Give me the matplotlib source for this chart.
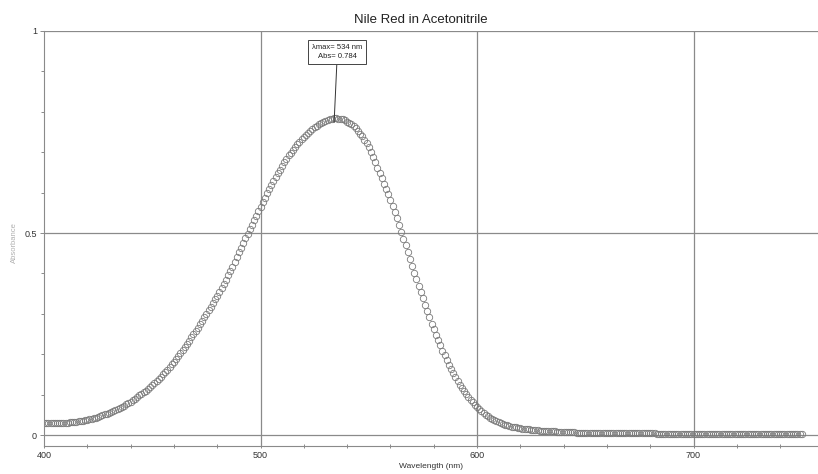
import numpy as np
import matplotlib
matplotlib.use("Agg")
import matplotlib.pyplot as plt
import matplotlib.ticker as ticker

plt.rcParams['font.family'] = ['Liberation Sans', 'DejaVu Sans']

# Wavelength grid (nm), one reading per nm
wavelength = np.arange(400, 751)

# Absorbance, one row per 10 nm
absorbance = [
    0.030, 0.030, 0.030, 0.030, 0.030, 0.030, 0.030, 0.030, 0.031, 0.031,  # 400
    0.031, 0.031, 0.032, 0.032, 0.033, 0.033, 0.034, 0.035, 0.036, 0.037,  # 410
    0.038, 0.039, 0.040, 0.042, 0.043, 0.045, 0.047, 0.049, 0.051, 0.053,  # 420
    0.055, 0.057, 0.059, 0.062, 0.064, 0.067, 0.070, 0.073, 0.076, 0.079,  # 430
    0.083, 0.086, 0.090, 0.094, 0.098, 0.102, 0.106, 0.110, 0.115, 0.119,  # 440
    0.124, 0.129, 0.134, 0.139, 0.144, 0.150, 0.156, 0.162, 0.169, 0.175,  # 450
    0.182, 0.189, 0.196, 0.203, 0.210, 0.218, 0.226, 0.234, 0.242, 0.250,  # 460
    0.258, 0.266, 0.275, 0.283, 0.291, 0.300, 0.309, 0.318, 0.327, 0.336,  # 470
    0.345, 0.355, 0.365, 0.375, 0.385, 0.395, 0.406, 0.417, 0.429, 0.440,  # 480
    0.452, 0.463, 0.475, 0.487, 0.498, 0.510, 0.521, 0.532, 0.543, 0.554,  # 490
    0.565, 0.576, 0.587, 0.598, 0.608, 0.618, 0.629, 0.639, 0.648, 0.657,  # 500
    0.666, 0.675, 0.684, 0.692, 0.699, 0.706, 0.713, 0.720, 0.726, 0.732,  # 510
    0.738, 0.743, 0.748, 0.753, 0.758, 0.762, 0.766, 0.769, 0.772, 0.775,  # 520
    0.777, 0.779, 0.781, 0.782, 0.784, 0.784, 0.783, 0.782, 0.781, 0.779,  # 530
    0.776, 0.773, 0.769, 0.764, 0.759, 0.753, 0.746, 0.739, 0.731, 0.722,  # 540
    0.712, 0.700, 0.688, 0.675, 0.662, 0.648, 0.635, 0.622, 0.609, 0.596,  # 550
    0.582, 0.567, 0.552, 0.536, 0.520, 0.503, 0.486, 0.470, 0.453, 0.436,  # 560
    0.419, 0.402, 0.386, 0.370, 0.354, 0.338, 0.322, 0.306, 0.291, 0.276,  # 570
    0.262, 0.248, 0.235, 0.222, 0.209, 0.197, 0.185, 0.174, 0.163, 0.153,  # 580
    0.143, 0.134, 0.125, 0.117, 0.109, 0.101, 0.094, 0.087, 0.081, 0.075,  # 590
    0.069, 0.064, 0.059, 0.054, 0.050, 0.046, 0.043, 0.040, 0.037, 0.034,  # 600
    0.032, 0.030, 0.028, 0.026, 0.024, 0.023, 0.021, 0.020, 0.019, 0.018,  # 610
    0.017, 0.016, 0.015, 0.015, 0.014, 0.013, 0.013, 0.012, 0.012, 0.011,  # 620
    0.011, 0.010, 0.010, 0.010, 0.009, 0.009, 0.009, 0.008, 0.008, 0.008,  # 630
    0.008, 0.007, 0.007, 0.007, 0.007, 0.007, 0.006, 0.006, 0.006, 0.006,  # 640
    0.006, 0.006, 0.006, 0.005, 0.005, 0.005, 0.005, 0.005, 0.005, 0.005,  # 650
    0.005, 0.005, 0.005, 0.005, 0.004, 0.004, 0.004, 0.004, 0.004, 0.004,  # 660
    0.004, 0.004, 0.004, 0.004, 0.004, 0.004, 0.004, 0.004, 0.004, 0.004,  # 670
    0.004, 0.004, 0.004, 0.003, 0.003, 0.003, 0.003, 0.003, 0.003, 0.003,  # 680
    0.003, 0.003, 0.003, 0.003, 0.003, 0.003, 0.003, 0.003, 0.003, 0.003,  # 690
    0.003, 0.003, 0.003, 0.003, 0.003, 0.003, 0.003, 0.003, 0.003, 0.003,  # 700
    0.003, 0.003, 0.003, 0.003, 0.003, 0.002, 0.002, 0.002, 0.002, 0.002,  # 710
    0.002, 0.002, 0.002, 0.002, 0.002, 0.002, 0.002, 0.002, 0.002, 0.002,  # 720
    0.002, 0.002, 0.002, 0.002, 0.002, 0.002, 0.002, 0.002, 0.002, 0.002,  # 730
    0.002, 0.002, 0.002, 0.002, 0.002, 0.002, 0.002, 0.002, 0.002, 0.002,  # 740
    0.002,                                                                  # 750
]

peak_wl = 534
peak_abs = 0.784
x_ticks = [400, 500, 600, 700]
y_ticks = [0, 0.5, 1]
y_ticklabels = ["0", "0.5", "1"]

grey = "#8a8a8a"

fig = plt.figure(figsize=(8.18, 4.74), dpi=100)
ax = fig.add_axes([0.0538, 0.0591, 0.9462, 0.8755])

ax.plot(wavelength, absorbance, linestyle="none", marker="o", markersize=4.6,
        markerfacecolor="none", markeredgecolor="#7a7a7a", markeredgewidth=0.6)

ax.set_xlim(400, 757.5)
ax.set_ylim(-0.027, 1.0)

# grid lines at the major positions
for xv in x_ticks[1:]:
    ax.axvline(xv, color=grey, linewidth=0.9, zorder=0)
for yv in y_ticks:
    ax.axhline(yv, color=grey, linewidth=0.9, zorder=0)

for side in ["right", "top"]:
    ax.spines[side].set_visible(False)
ax.spines["left"].set_color(grey)
ax.spines["bottom"].set_color(grey)

ax.set_xticks(x_ticks)
ax.set_yticks(y_ticks)
ax.set_yticklabels(y_ticklabels)
ax.xaxis.set_minor_locator(ticker.MultipleLocator(20))
ax.yaxis.set_minor_locator(ticker.MultipleLocator(0.1))
ax.tick_params(axis="both", which="both", color=grey, labelsize=6.5,
               labelcolor="#333333", width=0.7)
ax.tick_params(axis="both", which="major", length=3, pad=2)
ax.tick_params(axis="both", which="minor", length=2.5)
ax.tick_params(axis="x", which="both", direction="inout")

ax.set_xlabel("Wavelength (nm)", fontsize=6, color="#333333", labelpad=2)
ax.set_ylabel("Absorbance", fontsize=5.5, color="#b0b0b0")
ax.yaxis.set_label_coords(-0.033, 0.49)

ax.text(0.487, 1.012, "Nile Red in Acetonitrile", transform=ax.transAxes,
        ha="center", va="bottom", fontsize=9.5, color="#222222")

ax.annotate("\u03bbmax= {0} nm\nAbs= {1}".format(peak_wl, peak_abs),
            xy=(peak_wl, peak_abs - 0.01), xytext=(peak_wl + 1.5, 0.948),
            ha="center", va="center", fontsize=5.5, color="#222222",
            linespacing=1.5,
            bbox=dict(boxstyle="square,pad=0.5", facecolor="white",
                      edgecolor="#444444", linewidth=0.7),
            arrowprops=dict(arrowstyle="-", color="#333333", linewidth=0.7,
                            shrinkA=0, shrinkB=0))

fig.savefig("out.png", dpi=100)
